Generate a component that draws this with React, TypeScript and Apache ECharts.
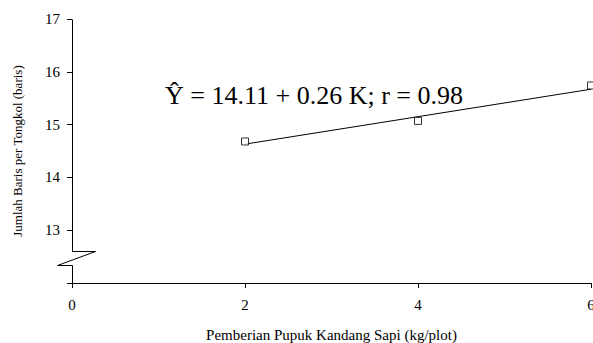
import React, { useEffect, useRef } from "react";
import * as echarts from "echarts";

const doses = [2, 4, 6];
const rowsPerCob = [14.68, 15.07, 15.74];
const regressionLine: [number, number][] = [
  [2, 14.63],
  [6, 15.67],
];
const xTicks = [0, 2, 4, 6];
const yTicks = [12, 13, 14, 15, 16, 17];
const equationText = "\u0176 = 14.11 + 0.26 K; r = 0.98";
const xTitle = "Pemberian Pupuk Kandang Sapi (kg/plot)";
const yTitle = "Jumlah Baris per Tongkol (baris)";
// axis break (value units)
const breakHigh = 12.6;
const breakLow = 12.34;
const breakRight = 0.265;
const breakLeft = -0.175;

const FONT = "'Liberation Serif', 'Times New Roman', serif";

export default function App() {
  const ref = useRef<HTMLDivElement>(null);
  useEffect(() => {
    if (!ref.current) return;
    const chart = echarts.init(ref.current, undefined, { renderer: "svg" });
    const eq = {
      id: "eq",
      type: "text",
      left: 165,
      top: 82,
      style: { text: equationText, font: `26px ${FONT}`, fill: "#000" },
    };
    chart.setOption({
      animation: false,
      backgroundColor: "#fff",
      grid: { left: 72, right: 2, top: 19, bottom: 60, outerBoundsMode: "none" },
      xAxis: {
        type: "value",
        min: xTicks[0],
        max: xTicks[xTicks.length - 1],
        interval: 2,
        name: xTitle,
        nameLocation: "middle",
        nameGap: 44,
        nameTextStyle: { fontFamily: FONT, fontSize: 15, color: "#000" },
        axisLine: { onZero: false, lineStyle: { color: "#000", width: 1 } },
        axisTick: { show: true, length: 5, lineStyle: { color: "#000" } },
        axisLabel: { fontFamily: FONT, fontSize: 15, color: "#000", margin: 14 },
        splitLine: { show: false },
      },
      yAxis: {
        type: "value",
        min: yTicks[0],
        max: yTicks[yTicks.length - 1],
        interval: 1,
        name: yTitle,
        nameLocation: "middle",
        nameGap: 48,
        nameTextStyle: { fontFamily: FONT, fontSize: 13, color: "#000" },
        axisLine: { show: false },
        axisTick: { show: true, length: 5, lineStyle: { color: "#000" } },
        axisLabel: {
          fontFamily: FONT,
          fontSize: 15,
          color: "#000",
          margin: 12,
          formatter: (v: number) => (v === yTicks[0] ? "" : String(v)),
        },
        splitLine: { show: false },
      },
      graphic: [eq],
      series: [
        {
          type: "line",
          data: regressionLine,
          symbol: "none",
          lineStyle: { color: "#000", width: 1 },
          z: 2,
        },
        {
          type: "scatter",
          data: doses.map((d, i) => [d, rowsPerCob[i]]),
          symbol: "rect",
          symbolSize: 7,
          itemStyle: { color: "#fff", borderColor: "#000", borderWidth: 1 },
          clip: false,
          z: 3,
        },
      ],
    });
    const p = (x: number, y: number) =>
      chart.convertToPixel({ gridIndex: 0 }, [x, y]) as number[];
    const top = p(0, yTicks[yTicks.length - 1]);
    const hi = p(0, breakHigh);
    const hiR = p(breakRight, breakHigh);
    const loL = p(breakLeft, breakLow);
    const lo = p(0, breakLow);
    const bot = p(0, yTicks[0]);
    chart.setOption({
      graphic: [
        eq,
        {
          id: "yaxis",
          type: "polyline",
          shape: { points: [top, hi, hiR, loL, lo, bot].map((q) => [Math.round(q[0]) + 0.5, Math.round(q[1]) + 0.5]) },
          style: { stroke: "#000", lineWidth: 1, fill: null },
          z: 10,
        },
      ],
    });
    return () => chart.dispose();
  }, []);
  return <div ref={ref} style={{ width: 593, height: 343, position: "absolute", left: 0, top: 0 }} />;
}
